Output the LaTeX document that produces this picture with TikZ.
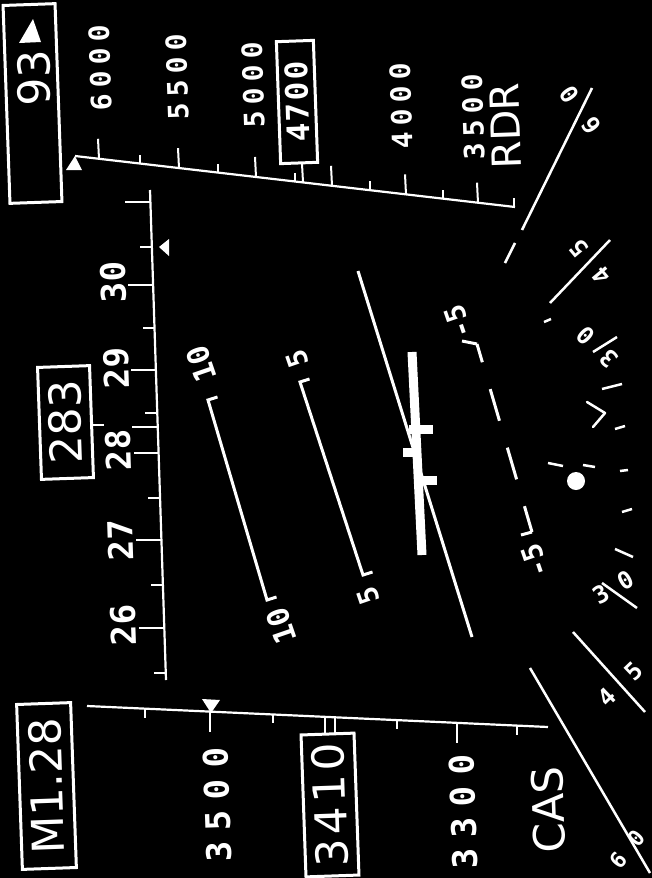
\documentclass[tikz,border=0pt]{standalone}
\usepackage{fontspec}
\usepackage{graphicx}
\setmainfont{DejaVu Sans}
\newfontfamily\hudm{DejaVu Sans Mono}
\newcommand{\hk}[1]{\kern#1pt}
\begin{document}
\begin{tikzpicture}[x=1pt,y=-1pt,
  scl/.style={white, line width=2.2pt},
  tk/.style={white, line width=2pt},
  ladder/.style={white, line width=3pt},
  rmark/.style={white, line width=2.5pt},
  boxn/.style={draw=white, line width=3pt, rotate=92, inner sep=0pt, text=white, font=\fontsize{44}{44}\selectfont},
  num/.style={text=white, inner sep=0pt, rotate=92},
  fs/.style={font=\hudm\bfseries\fontsize{#1}{#1}\selectfont},
  sans/.style={font=\fontsize{#1}{#1}\selectfont},
]
\fill[black] (0,0) rectangle (652,878);
\useasboundingbox (0,0) rectangle (652,878);

% ---------- altitude scale (top) ----------
\coordinate (a0) at (75,156);
\coordinate (a1) at (515,207);
\draw[scl] (a0) -- (a1);
\foreach \x in {99,179,256,332,406,478} {
  \pgfmathsetmacro\yy{156+0.1159*(\x-75)}
  \draw[tk] (\x,\yy) -- ++(-1,-20);
}
\foreach \x in {140,218,295,370,443,514} {
  \pgfmathsetmacro\yy{156+0.1159*(\x-75)}
  \draw[tk] (\x,\yy) -- ++(0,-9);
}
\fill[white] (66,170) -- (82,170) -- (75,156) -- cycle;
\node[num, fs=28] (l6000) at (100,68) {6\hk60\hk60\hk60};
\node[num, fs=28] (l5500) at (177,77) {5\hk65\hk60\hk60};
\node[num, fs=28] (l5000) at (253,85) {5\hk60\hk60\hk60};
\node[num, fs=28] (l4000) at (401,106) {4\hk60\hk60\hk60};
\node[num, fs=28] (l3500a) at (473,117) {3\hk65\hk60\hk60};
\node[num, sans=40] (rdr) at (505,126) {RDR};
\node[boxn, minimum width=122pt, minimum height=37pt, fs=31] (b4700) at (297,102) {4\hk27\hk20\hk20};
\draw[tk] (302,164) -- (303,182);

% ---------- top-left box ----------
\node[boxn, minimum width=198pt, minimum height=52pt] (b93) at (32.5,103.5) {};
\node[num, sans=44] (t93) at (34,78) {93};
\fill[white] (19,43) -- (41,42) -- (33,19) -- cycle;

% ---------- heading scale ----------
\coordinate (h0) at (150,190);
\coordinate (h1) at (166,680);
\draw[scl] (h0) -- (h1);
\foreach \y in {202,285,370,453,540,628} {
  \pgfmathsetmacro\xx{150+0.03265*(\y-190)}
  \draw[tk] (\xx,\y) -- ++(-25,0);
}
\foreach \y in {247,328,413,498,585,673} {
  \pgfmathsetmacro\xx{150+0.03265*(\y-190)}
  \draw[tk] (\xx,\y) -- ++(-12,0);
}
\draw[tk] (157.7,427) -- (132,427);
\fill[white] (159,247) -- (169,239) -- (169,256) -- cycle;
\node[num, fs=34] (h30) at (113,282) {30};
\node[num, fs=34] (h29) at (116,368) {29};
\node[num, fs=34] (h28) at (118,450) {28};
\node[num, fs=34] (h27) at (120,540) {27};
\node[num, fs=34] (h26) at (123,625) {26};
\node[boxn, minimum width=112pt, minimum height=52pt] (b283) at (65.5,422.5) {283};
\draw[tk] (93,425) -- (104,425);

% ---------- airspeed scale (bottom) ----------
\coordinate (s0) at (87,706);
\coordinate (s1) at (548,727);
\draw[scl] (s0) -- (s1);
\foreach \x in {210,457} {
  \pgfmathsetmacro\yy{706+0.04555*(\x-87)}
  \draw[tk] (\x,\yy) -- ++(0,20);
}
\foreach \x in {145,273,397,517} {
  \pgfmathsetmacro\yy{706+0.04555*(\x-87)}
  \draw[tk] (\x,\yy) -- ++(0,9);
}
\fill[white] (202,699) -- (220,700) -- (211,713) -- cycle;
\node[num, fs=34] (l3500b) at (217,805) {3\hk{11}5\hk{11}0\hk{11}0};
\node[num, fs=34] (l3300) at (463,812) {3\hk{11}3\hk{11}0\hk{11}0};
\node[num, sans=43] (cas) at (548,810) {CAS};
\node[boxn, minimum width=142pt, minimum height=53pt] (b3410) at (330,805) {3\hk44\hk41\hk40};
\node[boxn, minimum width=165pt, minimum height=54pt] (bM) at (46.5,786) {M1.28};
\draw[tk] (325,717) -- (325,733);
\draw[tk] (335,717) -- (335,733);

% ---------- pitch ladder ----------
\draw[ladder] (217.5,397) -- (208,400) -- (267,600) -- (276.5,597);
\node[num, fs=30, rotate=17] (p10a) at (201,364) {10};
\node[num, fs=30, rotate=17] (p10b) at (281,626) {10};
\draw[ladder] (309.5,379) -- (300,382) -- (363,575) -- (372.5,572);
\node[num, fs=28, rotate=17] (p5a) at (297,359) {5};
\node[num, fs=28, rotate=17] (p5b) at (368,596) {5};
\draw[ladder] (358,271) -- (472,637);
\draw[ladder, dash pattern=on 33pt off 28pt, dash phase=14pt] (477,344) -- (532,532);
\draw[ladder] (462,341) -- (477,344);
\draw[ladder] (532,532) -- (521,535);
\node[num, fs=28, rotate=17] (pm5a) at (458,322) {-5};
\node[num, fs=28, rotate=17] (pm5b) at (535,561) {-5};

% aircraft reference symbol
\draw[white, line width=9pt] (412,352) -- (422,555);
\draw[white, line width=9pt] (409,429) -- (433,429);
\draw[white, line width=9pt] (403,452) -- (418,452);
\draw[white, line width=9pt] (417,480) -- (437,480);

% ---------- bank lines and roll marks ----------
\draw[rmark] (592,88) -- (522,230);
\draw[rmark] (515,243) -- (505,263);
\draw[rmark] (610,240) -- (550,303);
\draw[rmark] (617,337) -- (593,352);
\draw[rmark] (602,583) -- (637,608);
\draw[rmark] (573,632) -- (645,712);
\draw[rmark] (530,668) -- (650,873);
\draw[rmark] (544,322) -- (551,319);
\draw[rmark] (602,389) -- (622,384);
\draw[rmark] (615,429) -- (625,426);
\draw[rmark] (620,471) -- (628,470);
\draw[rmark] (622,512) -- (632,509);
\draw[rmark] (615,549) -- (633,557);
\draw[rmark] (548,463) -- (563,466);
\draw[rmark] (583,465) -- (595,467);
\draw[rmark, line cap=round, line join=round] (587,402) -- (605,413) -- (593,427);
\fill[white] (576,481) circle (9);
\node[num, fs=24, rotate=33] (r60a) at (580,110) {6\hk{24}0};
\node[num, fs=24, rotate=38] (r45a) at (590,262) {4\hk{21}5};
\node[num, fs=24, rotate=44] (r30a) at (597,347) {3\hk{18}0};
\node[num, fs=24, rotate=-62] (r30b) at (613,587) {3\hk{14}0};
\node[num, fs=24, rotate=-48] (r45b) at (620,684) {4\hk{23}5};
\node[num, fs=22, rotate=-42] (r60b) at (627,849) {6\hk{15}0};
\end{tikzpicture}
\end{document}
